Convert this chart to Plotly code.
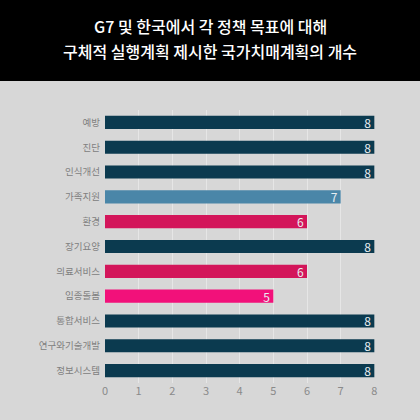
import plotly.graph_objects as go

categories = ["예방", "진단", "인식개선", "가족지원", "환경", "장기요양", "의료서비스", "임종돌봄", "통합서비스", "연구와기술개발", "정보시스템"]
values = [8, 8, 8, 7, 6, 8, 6, 5, 8, 8, 8]
colors = ["#0b3a4f", "#0b3a4f", "#0b3a4f", "#4a86a8", "#d3155a", "#0b3a4f", "#d3155a", "#f2117a", "#0b3a4f", "#0b3a4f", "#0b3a4f"]
title_lines = ["G7 및 한국에서 각 정책 목표에 대해", "구체적 실행계획 제시한 국가치매계획의 개수"]

FONT = "Noto Sans CJK KR"
W, H = 420, 420
mt, mb, ml, mr = 110, 37, 105, 45
ph = H - mt - mb

fig = go.Figure(go.Bar(
    x=values, y=categories, orientation="h",
    marker=dict(color=colors, line=dict(width=0)),
    text=[str(v) for v in values], textposition="inside", insidetextanchor="end",
    textangle=0,
    textfont=dict(family=FONT, size=12, color="#e8eef2"),
    width=0.53,
))

fig.update_layout(
    width=W, height=H,
    margin=dict(l=ml, r=mr, t=mt, b=mb),
    paper_bgcolor="#d7d7d7", plot_bgcolor="#d7d7d7",
    showlegend=False,
    font=dict(family=FONT),
    uniformtext=dict(minsize=8, mode="show"),
)
fig.update_xaxes(range=[0, 8.02], tickvals=list(range(9)), showgrid=True,
                 gridcolor="#e6e6e6", gridwidth=1, zeroline=False,
                 tickfont=dict(family=FONT, size=11, color="#8a8a8a"), ticks="", ticklen=0)
fig.update_yaxes(autorange="reversed", showgrid=False,
                 tickfont=dict(family=FONT, size=9.5, color="#808080"), ticks="", ticklabelstandoff=4)

# black header band
fig.add_shape(type="rect", xref="paper", yref="paper",
              x0=-ml / (W - ml - mr), x1=1 + mr / (W - ml - mr),
              y0=1 + (mt - 81) / ph, y1=1 + mt / ph + 0.01,
              fillcolor="#000000", line=dict(width=0), layer="below")

for i, line in enumerate(title_lines):
    ypix = 26 + i * 25
    fig.add_annotation(text=line, xref="paper", yref="paper",
                       x=(W / 2 - ml) / (W - ml - mr), y=1 + (mt - ypix) / ph,
                       xanchor="center", yanchor="middle", showarrow=False,
                       font=dict(family=FONT, size=16, color="#ffffff", weight=500))

fig.write_html("out.html", config={"displayModeBar": False},
               post_script="document.body.style.margin='0';document.body.style.background='#d7d7d7';")
